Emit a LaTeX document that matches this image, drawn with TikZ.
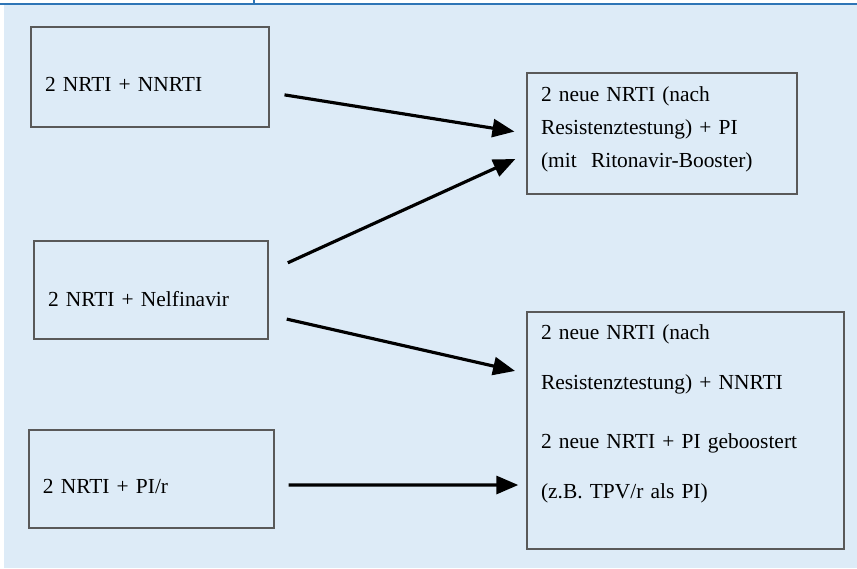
\documentclass[tikz,border=0pt]{standalone}
\usepackage{fontspec}
\setmainfont{Liberation Serif}
\usetikzlibrary{arrows.meta, positioning, calc}
\definecolor{panelbg}{RGB}{221, 235, 247}
\definecolor{rulebl}{RGB}{46, 117, 182}
\definecolor{framegray}{RGB}{89, 89, 89}

\begin{document}
\begin{tikzpicture}[every node/.style={font=\fontsize{12.2}{18.8}\selectfont},
    regimen/.style={draw=framegray, line width=0.8pt, inner xsep=0.28cm, inner ysep=0pt, align=left},
    switch/.style={-{Triangle[length=0.44cm, width=0.36cm]}, line width=1.8pt}]
        \useasboundingbox (0,0) rectangle (17.14,-11.36);
        % Panel
        \fill[panelbg] (0.08,-0.1) rectangle (17.14,-11.36);
        \draw[rulebl, line width=1.1pt] (0,-0.08) -- (17.14,-0.08);
        \draw[rulebl, line width=0.6pt] (5.08,0) -- (5.08,-0.08);
        
        % Current regimens
        \node[regimen, text width=4.2cm, text height=1.28cm, text depth=0.72cm] (nnrti) at (3.0,-1.54) {2 NRTI + NNRTI};
        \node[regimen, text width=4.12cm, text height=1.3cm, text depth=0.66cm] (nelfi) at (3.02,-5.8) {2 NRTI + Nelfinavir};
        \node[regimen, text width=4.34cm, text height=1.26cm, text depth=0.7cm] (pir) at (3.03,-9.58) {2 NRTI + PI/r};
        
        % New regimens
        \node[regimen, text width=4.84cm, text height=0.56cm, text depth=1.86cm] (newpi) at (13.24,-2.67) {2 neue NRTI (nach\\Resistenztestung) + PI\\(mit~ Ritonavir-Booster)};
        \node[regimen, text width=5.78cm, text height=0.54cm, text depth=4.2cm, font=\fontsize{12.2}{28.5}\selectfont] (newnn) at (13.71,-8.61) {2 neue NRTI (nach\\Resistenztestung) + NNRTI\\[0.18cm]2 neue NRTI + PI geboostert\\(z.B. TPV/r als PI)};
        
        % Arrows
        \draw[switch, shorten <=0.3cm, shorten >=0.24cm] ([yshift=-0.31cm]nnrti.east) -- (newpi.west);
        \draw[switch, shorten <=0.42cm, shorten >=0.24cm] ([yshift=0.37cm]nelfi.east) -- ([yshift=-0.41cm]newpi.west);
        \draw[switch, shorten <=0.37cm, shorten >=0.23cm] ([yshift=-0.5cm]nelfi.east) -- ([yshift=1.14cm]newnn.west);
        \draw[switch, shorten <=0.28cm, shorten >=0.16cm] ([yshift=-0.12cm]pir.east) -- ([yshift=-1.09cm]newnn.west);
    \end{tikzpicture}
\end{document}
